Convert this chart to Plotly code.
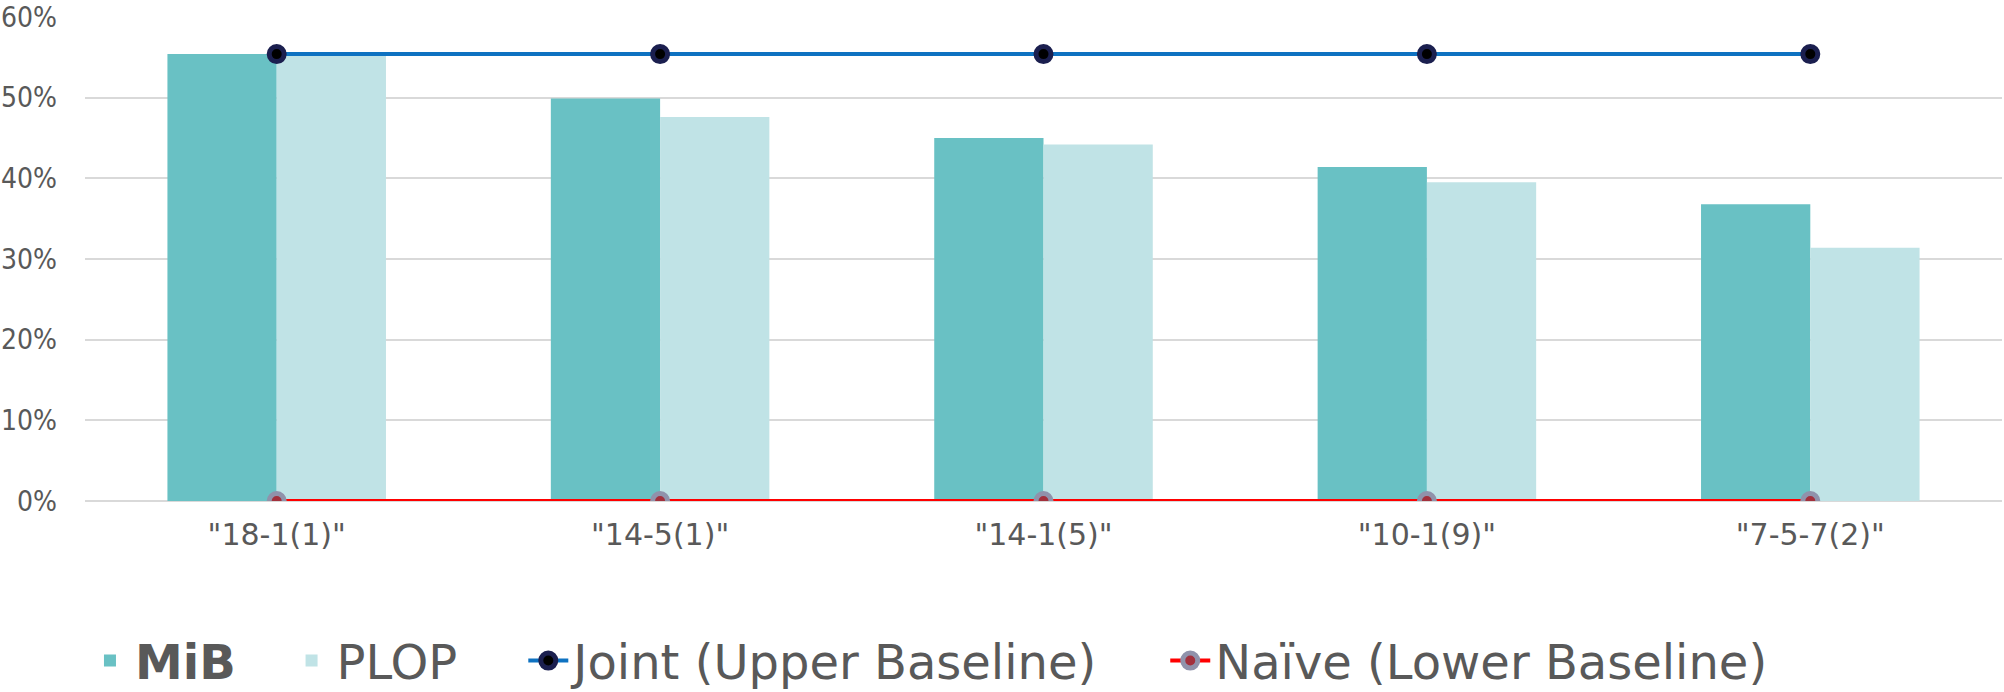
import plotly.graph_objects as go

categories = ['"18-1(1)"', '"14-5(1)"', '"14-1(5)"', '"10-1(9)"', '"7-5-7(2)"']
mib = [55.4, 49.9, 45.0, 41.4, 36.8]
plop = [55.2, 47.6, 44.2, 39.5, 31.4]
joint = [55.4, 55.4, 55.4, 55.4, 55.4]
naive = [0, 0, 0, 0, 0]
y_ticks = [0, 10, 20, 30, 40, 50, 60]

COND = "DejaVu Sans Condensed, DejaVu Sans, sans-serif"
REG = "DejaVu Sans, sans-serif"
GRAY = "#595959"
NB = "\u00a0"

fig = go.Figure()
fig.add_trace(go.Bar(x=categories, y=mib, name="<b>MiB</b>" + NB * 3,
                     marker=dict(color="#69C1C4", line=dict(width=0))))
fig.add_trace(go.Bar(x=categories, y=plop, name="PLOP" + NB * 4,
                     marker=dict(color="#C0E3E6", line=dict(width=0))))
fig.add_trace(go.Scatter(x=categories, y=joint, name="Joint (Upper Baseline)" + NB * 4, mode="lines+markers",
                         line=dict(color="#0E72C1", width=4),
                         marker=dict(color="#000000", size=15, line=dict(color="#1B1F4F", width=5))))
fig.add_trace(go.Scatter(x=categories, y=naive, name="Naïve (Lower Baseline)", mode="lines+markers",
                         line=dict(color="#FF0000", width=4),
                         marker=dict(color="#A3303C", size=15, line=dict(color="#9092AB", width=5))))

fig.update_layout(
    width=2004, height=692,
    margin=dict(l=85, r=2, t=17, b=191, autoexpand=False),
    paper_bgcolor="white", plot_bgcolor="white",
    barmode="group", bargap=0.43, bargroupgap=0,
    font=dict(family=REG, color=GRAY, size=30),
    showlegend=True,
    legend=dict(orientation="h", x=0.0424, xanchor="left", xref="container",
                y=0.045, yanchor="middle", yref="container",
                font=dict(size=48, color=GRAY, family=REG), itemwidth=40, traceorder="normal"),
    xaxis=dict(showgrid=False, showline=False, ticks="", tickfont=dict(size=30, color=GRAY, family=REG),
               ticklabelstandoff=13),
    yaxis=dict(range=[0, 60], tickvals=y_ticks, ticktext=[f"{v}%" for v in y_ticks],
               showgrid=True, gridcolor="#D9D9D9", gridwidth=2, zeroline=True, zerolinecolor="#D9D9D9",
               zerolinewidth=2, showline=False, ticks="", tickfont=dict(size=28, color=GRAY, family=COND),
               ticklabelstandoff=27),
)

fig.write_html("out.html", config={"displayModeBar": False},
               post_script="document.body.style.margin='0';")
